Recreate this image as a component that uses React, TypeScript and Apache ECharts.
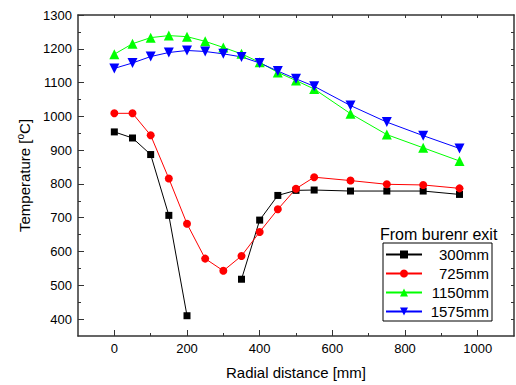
import React, { useEffect, useRef } from "react";
import * as echarts from "echarts";

const radial = [0, 50, 100, 150, 200, 250, 300, 350, 400, 450, 500, 550, 650, 750, 850, 950];
const t300 = [954, 936, 887, 707, 410, null, null, 518, 693, 766, 781, 782, 779, 779, 779, 769];
const t725 = [1009, 1009, 944, 816, 682, 579, 543, 587, 658, 725, 786, 820, 810, 799, 797, 787];
const t1150 = [1184, 1215, 1233, 1239, 1236, 1222, 1204, 1185, 1160, 1130, 1106, 1081, 1008, 946, 907, 868];
const t1575 = [1142, 1158, 1177, 1189, 1195, 1192, 1185, 1176, 1158, 1134, 1111, 1089, 1032, 983, 943, 905];

const xMajor = [0, 200, 400, 600, 800, 1000];
const xMinor = [100, 300, 500, 700, 900];
const xAll = [0, 100, 200, 300, 400, 500, 600, 700, 800, 900, 1000];
const yMajor = [400, 500, 600, 700, 800, 900, 1000, 1100, 1200, 1300];
const yMinor = [450, 550, 650, 750, 850, 950, 1050, 1150, 1250];
const yAll = [400, 450, 500, 550, 600, 650, 700, 750, 800, 850, 900, 950, 1000, 1050, 1100, 1150, 1200, 1250];

const FONT = "'Liberation Sans', Arial, sans-serif";
const AXIS_COLOR = "#333";

const pair = (ys: (number | null)[]) => radial.map((x, i) => [x, ys[i]]);
const plain = (v: number) => String(v);

export default function App() {
  const ref = useRef<HTMLDivElement>(null);
  useEffect(() => {
    if (!ref.current) return;
    const chart = echarts.init(ref.current, null, { renderer: "svg" });
    const baseX = { type: "value", min: -100, max: 1100, splitLine: { show: false } };
    const baseY = { type: "value", min: 350, max: 1300, splitLine: { show: false } };
    const mkSeries = (name: string, data: any, color: string, symbol: string, size: number, rotate = 0) => ({
      name,
      type: "line",
      data,
      symbol,
      symbolSize: size,
      symbolRotate: rotate,
      connectNulls: false,
      lineStyle: { color, width: 1 },
      itemStyle: { color },
      xAxisIndex: 0,
      yAxisIndex: 0,
    });
    chart.setOption({
      animation: false,
      backgroundColor: "#fff",
      textStyle: { fontFamily: FONT },
      grid: { left: 78, right: 2, top: 15, bottom: 49, outerBoundsMode: "none" },
      title: {
        text: "From burenr exit",
        left: 380,
        top: 226,
        padding: 0,
        textStyle: { fontSize: 16, fontWeight: "normal", color: "#000", fontFamily: FONT },
      },
      legend: {
        orient: "vertical",
        left: 383,
        top: 243,
        padding: [4, 3, 2, 2],
        itemGap: 4,
        itemWidth: 36,
        itemHeight: 10,
        borderColor: "#000",
        borderWidth: 1,
        borderRadius: 0,
        backgroundColor: "#fff",
        formatter: (n: string) => "{a|" + n + "}",
        textStyle: {
          fontFamily: FONT,
          fontSize: 15,
          color: "#000",
          rich: { a: { width: 62, align: "right", fontSize: 15, lineHeight: 15, fontFamily: FONT, color: "#000" } },
        },
        data: ["300mm", "725mm", "1150mm", "1575mm"],
      },
      xAxis: [
        {
          ...baseX,
          position: "bottom",
          name: "Radial distance [mm]",
          nameLocation: "middle",
          nameGap: 29,
          nameTextStyle: { fontSize: 15, color: "#000", fontFamily: FONT },
          axisLine: { onZero: false, lineStyle: { color: AXIS_COLOR, width: 1.5 } },
          axisTick: { inside: true, length: 6, customValues: xMajor, lineStyle: { color: AXIS_COLOR, width: 1 } },
          axisLabel: { customValues: xMajor, formatter: plain, fontSize: 13, color: "#000", margin: 6, fontFamily: FONT },
        },
        {
          ...baseX,
          position: "bottom",
          axisLine: { show: false, onZero: false },
          axisTick: { inside: true, length: 3, customValues: xMinor, lineStyle: { color: AXIS_COLOR, width: 1 } },
          axisLabel: { show: false },
        },
        {
          ...baseX,
          position: "top",
          axisLine: { onZero: false, lineStyle: { color: AXIS_COLOR, width: 1.5 } },
          axisTick: { inside: true, length: 3, customValues: xAll, lineStyle: { color: AXIS_COLOR, width: 1 } },
          axisLabel: { show: false },
        },
      ],
      yAxis: [
        {
          ...baseY,
          position: "left",
          name: "Temperature [{sup|o}C]",
          nameLocation: "middle",
          nameGap: 43,
          nameTextStyle: {
            fontSize: 15,
            color: "#000",
            fontFamily: FONT,
            rich: { sup: { fontSize: 10, padding: [0, 0, 8, 0], color: "#000", fontFamily: FONT } },
          },
          axisLine: { onZero: false, lineStyle: { color: AXIS_COLOR, width: 1.5 } },
          axisTick: { inside: true, length: 6, customValues: yMajor, lineStyle: { color: AXIS_COLOR, width: 1 } },
          axisLabel: { customValues: yMajor, formatter: plain, fontSize: 13, color: "#000", margin: 6, fontFamily: FONT },
        },
        {
          ...baseY,
          position: "left",
          axisLine: { show: false, onZero: false },
          axisTick: { inside: true, length: 3, customValues: yMinor, lineStyle: { color: AXIS_COLOR, width: 1 } },
          axisLabel: { show: false },
        },
        {
          ...baseY,
          position: "right",
          axisLine: { onZero: false, lineStyle: { color: AXIS_COLOR, width: 1.5 } },
          axisTick: { inside: true, length: 3, customValues: yAll, lineStyle: { color: AXIS_COLOR, width: 1 } },
          axisLabel: { show: false },
        },
      ],
      series: [
        mkSeries("300mm", pair(t300), "#000000", "rect", 7),
        mkSeries("725mm", pair(t725), "#ff0000", "circle", 8),
        mkSeries("1150mm", pair(t1150), "#00ff00", "triangle", 10),
        mkSeries("1575mm", pair(t1575), "#0000ff", "triangle", 10, 180),
      ],
    });
    return () => chart.dispose();
  }, []);
  return (
    <div
      ref={ref}
      style={{ position: "fixed", left: 0, top: 0, width: 516, height: 385, background: "#fff" }}
    />
  );
}
